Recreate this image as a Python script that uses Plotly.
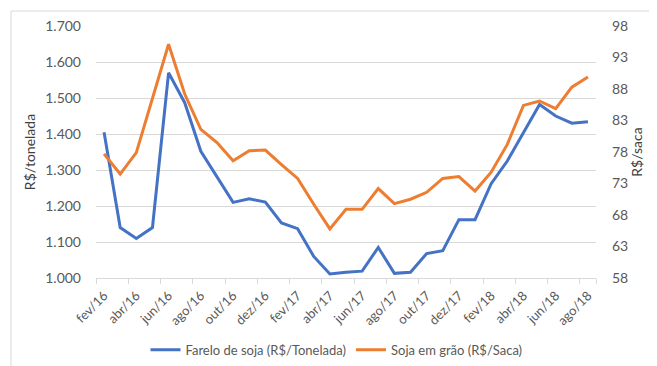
import plotly.graph_objects as go

months = ["fev/16","mar/16","abr/16","mai/16","jun/16","jul/16","ago/16","set/16","out/16","nov/16","dez/16",
          "jan/17","fev/17","mar/17","abr/17","mai/17","jun/17","jul/17","ago/17","set/17","out/17","nov/17","dez/17",
          "jan/18","fev/18","mar/18","abr/18","mai/18","jun/18","jul/18","ago/18"]
farelo = [1405,1140,1110,1140,1570,1487,1352,1280,1210,1220,1211,
          1153,1137,1060,1011,1016,1019,1085,1013,1016,1068,1076,1162,
          1162,1262,1325,1403,1482,1450,1430,1434]
soja = [77.7,74.5,77.9,86.5,95.1,87.2,81.6,79.5,76.6,78.2,78.3,
        76.0,73.8,69.7,65.8,68.9,68.9,72.2,69.8,70.5,71.6,73.8,74.1,
        71.8,74.8,79.2,85.4,86.1,84.9,88.3,89.9]
name_farelo = "Farelo de soja (R$/Tonelada)"
name_soja = "Soja em grão (R$/Saca)"

FONT = "Lato, 'Open Sans', sans-serif"
TXT = "#595959"
TITLE = "#404040"
GRID = "#d9d9d9"

fig = go.Figure()
fig.add_trace(go.Scatter(x=months, y=farelo, name=name_farelo, mode="lines",
                         line=dict(color="#4472C4", width=3)))
fig.add_trace(go.Scatter(x=months, y=soja, name=name_soja, mode="lines", yaxis="y2",
                         line=dict(color="#ED7D31", width=3)))

fig.update_layout(
    width=657, height=366,
    margin=dict(l=88, r=69, t=18, b=96, autoexpand=False),
    paper_bgcolor="white", plot_bgcolor="white",
    separators=",.",
    font=dict(family=FONT, size=13, color=TXT),
    showlegend=True,
    legend=dict(orientation="h", xref="container", yref="container", x=0.5, xanchor="center",
                y=0.066, yanchor="middle", font=dict(size=13, color=TXT), itemwidth=30),
    xaxis=dict(type="category", tickmode="array", tickvals=months[::2], tickangle=-45,
               showgrid=False, showline=True, linecolor=GRID, linewidth=1,
               ticks="outside", tickson="boundaries", ticklen=5, tickcolor=GRID,
               ticklabelstandoff=4, automargin=False,
               tickfont=dict(size=13, color=TXT), range=[-0.5, 30.5]),
    yaxis=dict(range=[1000, 1700], dtick=100, tickformat=",d", showgrid=True, gridcolor=GRID,
               zeroline=False, showline=False, ticks="", ticklabelstandoff=14, automargin=False,
               title=dict(text="R$/tonelada", font=dict(size=14, color=TITLE), standoff=6),
               tickfont=dict(size=14, color=TXT)),
    yaxis2=dict(range=[58, 98], tick0=58, dtick=5, overlaying="y", side="right", showgrid=False,
                zeroline=False, showline=False, ticks="", ticklabelstandoff=15, automargin=False,
                title=dict(text="R$/saca", font=dict(size=14, color=TITLE), standoff=2),
                tickfont=dict(size=14, color=TXT)),
    shapes=[dict(type="rect", xref="paper", yref="paper",
                 x0=(3-88)/500, x1=(655-88)/500, y0=(270-362)/252, y1=(270-3)/252,
                 line=dict(color=GRID, width=1), fillcolor="rgba(0,0,0,0)", layer="below")],
)

fig.write_html("out.html")
